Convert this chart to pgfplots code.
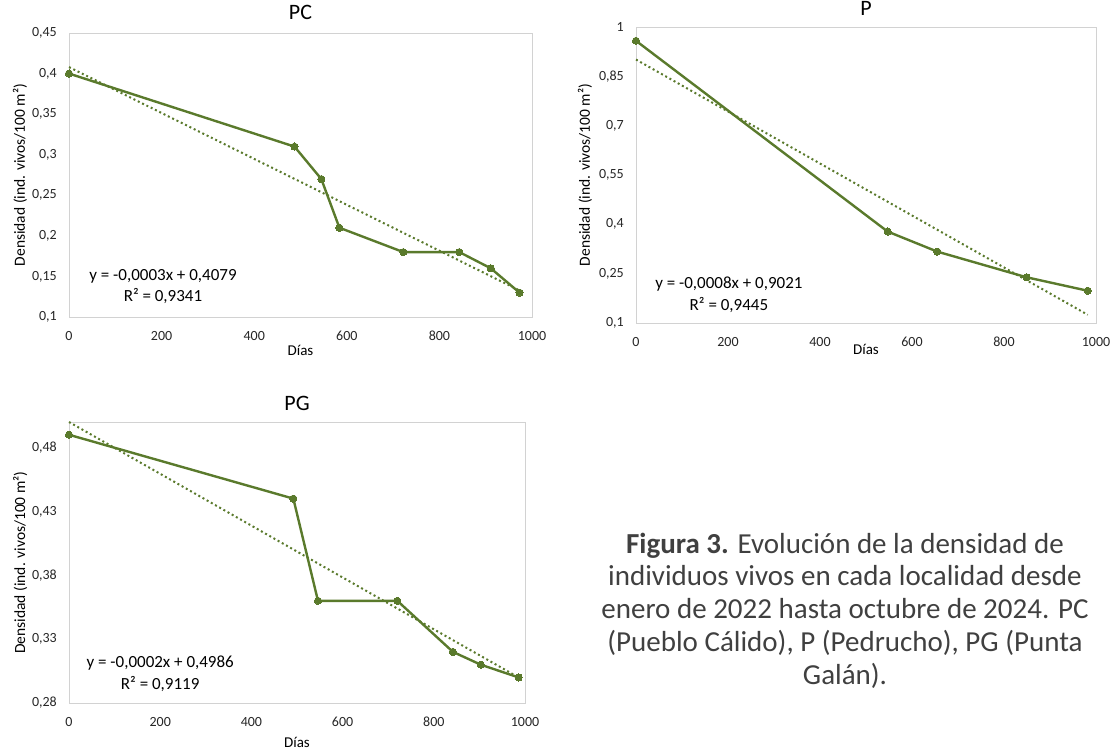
\documentclass[border=0pt]{standalone}
\usepackage{fontspec}
\setmainfont{Carlito}
\usepackage{pgfplots}
\pgfplotsset{compat=1.18}
\definecolor{lncol}{RGB}{90,122,44}
\definecolor{framegray}{RGB}{210,210,210}
\definecolor{txtgray}{RGB}{64,64,64}
\pgfplotsset{
  myaxis/.style={
    scale only axis,
    axis line style={framegray, line width=0.9pt},
    tick style={draw=none},
    xmin=0, xmax=1000, xtick={0,200,400,600,800,1000},
    clip=false,
    /pgf/number format/assume math mode=true,
    /pgf/number format/use comma,
    /pgf/number format/1000 sep={},
    ticklabel style={font=\fontsize{14}{15}\selectfont, text=black!85, inner sep=0pt},
    xticklabel style={anchor=base, yshift=-23.5pt},
    yticklabel style={anchor=east, xshift=-12pt},
    xlabel={Días},
    ylabel={Densidad (ind. vivos/100 m²)},
    xlabel style={font=\fontsize{15}{17}\selectfont, anchor=base},
    ylabel style={font=\fontsize{15.5}{17}\selectfont, anchor=center, rotate=0},
    title style={font=\fontsize{22}{24}\selectfont, anchor=base},
  },
  dataline/.style={lncol, line width=2.4pt, mark=*, mark size=3.6pt, mark options={fill=lncol, draw=lncol, line width=0pt, solid}},
  trend/.style={lncol, line width=2pt, dash pattern=on 2pt off 2.8pt},
}
\begin{document}
\begin{tikzpicture}
\useasboundingbox (0,0) rectangle (1117pt,754pt);
% PC  frame 69..532 x, 33..317 y (pixels)
\begin{axis}[myaxis, at={(69pt,437pt)}, anchor=south west, width=463pt, height=284pt,
  ymin=0.1, ymax=0.45, ytick={0.1,0.15,0.2,0.25,0.3,0.35,0.4,0.45},
  title={PC}, title style={at={(axis description cs:0.5,1.028)}},
  xlabel style={at={(axis description cs:0.5,-0.137)}},
  ylabel style={at={(axis description cs:-0.106,0.5)}}]
\addplot[trend] coordinates {(0,0.408) (972,0.133)};
\addplot[dataline] coordinates {(0,0.40) (487,0.31) (545,0.27) (584,0.21) (722,0.18) (843,0.18) (911,0.16) (973,0.13)};
\node[font=\fontsize{17}{19}\selectfont] at (axis description cs:0.203,0.144) {y = -0,0003x + 0,4079};
\node[font=\fontsize{17}{19}\selectfont] at (axis description cs:0.203,0.074) {R² = 0,9341};
\end{axis}
% P  frame 636..1096 x, 27..323 y
\begin{axis}[myaxis, at={(636pt,431pt)}, anchor=south west, width=460pt, height=296pt,
  ymin=0.1, ymax=1, ytick={0.1,0.25,0.4,0.55,0.7,0.85,1},
  title={P}, title style={at={(axis description cs:0.5,1.017)}},
  xlabel style={at={(axis description cs:0.5,-0.108)}},
  ylabel style={at={(axis description cs:-0.111,0.5)}}]
\addplot[trend] coordinates {(0,0.901) (982,0.125)};
\addplot[dataline] coordinates {(0,0.958) (547,0.378) (655,0.317) (849,0.239) (982,0.198)};
\node[font=\fontsize{17}{19}\selectfont] at (axis description cs:0.202,0.132) {y = -0,0008x + 0,9021};
\node[font=\fontsize{17}{19}\selectfont] at (axis description cs:0.202,0.061) {R² = 0,9445};
\end{axis}
% PG  frame 69..525 x, 422..703 y
\begin{axis}[myaxis, at={(69pt,51pt)}, anchor=south west, width=456pt, height=281pt,
  ymin=0.28, ymax=0.50, ytick={0.28,0.33,0.38,0.43,0.48},
  title={PG}, title style={at={(axis description cs:0.5,1.018)}},
  xlabel style={at={(axis description cs:0.5,-0.160)}},
  ylabel style={at={(axis description cs:-0.107,0.5)}}]
\addplot[trend] coordinates {(0,0.500) (986,0.300)};
\addplot[dataline] coordinates {(0,0.49) (492,0.44) (546,0.36) (720,0.36) (842,0.32) (903,0.31) (986,0.30)};
\node[font=\fontsize{17}{19}\selectfont] at (axis description cs:0.20,0.142) {y = -0,0002x + 0,4986};
\node[font=\fontsize{17}{19}\selectfont] at (axis description cs:0.20,0.068) {R² = 0,9119};
\end{axis}
\node[align=center, font=\fontsize{29}{32.7}\selectfont, text=txtgray] at (845pt,143.5pt)
 {\textbf{Figura 3.} Evolución de la densidad de\\ individuos vivos en cada localidad desde\\ enero de 2022 hasta octubre de 2024. PC\\ (Pueblo Cálido), P (Pedrucho), PG (Punta\\ Galán).};
\end{tikzpicture}
\end{document}
